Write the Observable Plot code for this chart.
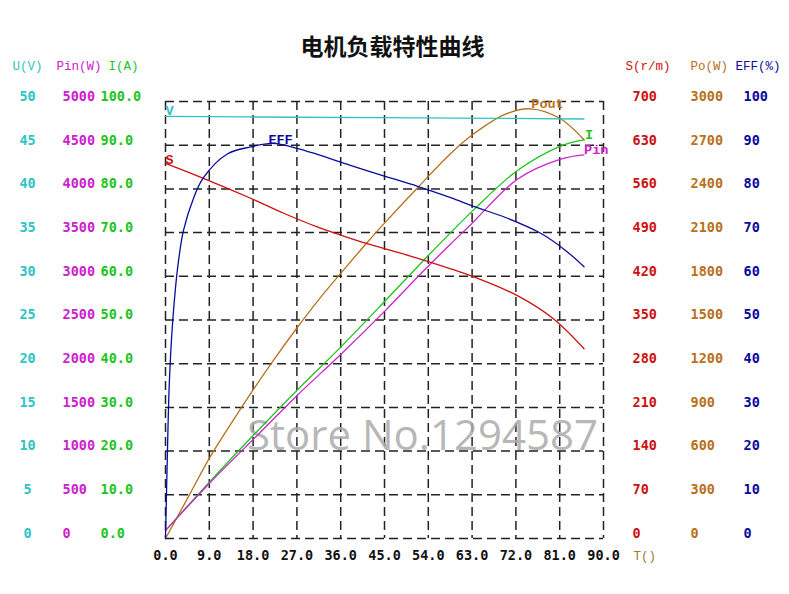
<!DOCTYPE html>
<html>
<head>
<meta charset="utf-8">
<script src="https://cdn.jsdelivr.net/npm/d3@7"></script>
<script src="https://cdn.jsdelivr.net/npm/@observablehq/plot@0.6"></script>
<style>
  html, body { margin: 0; padding: 0; background: #fff; }
  #chart { position: absolute; left: 0; top: 0; }
</style>
</head>
<body>
<div id="chart"></div>
<script>
// ---- tick labels ----
const tTicks = [0, 9, 18, 27, 36, 45, 54, 63, 72, 81, 90];
const gridPct = [0, 10, 20, 30, 40, 50, 60, 70, 80, 90, 100];
const uTicks = [0, 5, 10, 15, 20, 25, 30, 35, 40, 45, 50];
const pinTicks = [0, 500, 1000, 1500, 2000, 2500, 3000, 3500, 4000, 4500, 5000];
const iTicks = [0, 10, 20, 30, 40, 50, 60, 70, 80, 90, 100];
const sTicks = [0, 70, 140, 210, 280, 350, 420, 490, 560, 630, 700];
const poTicks = [0, 300, 600, 900, 1200, 1500, 1800, 2100, 2400, 2700, 3000];
const effTicks = [0, 10, 20, 30, 40, 50, 60, 70, 80, 90, 100];

// ---- series (torque T vs value) ----
const uT = [0, 26, 60, 86];
const uV = [48.3, 48.2, 48.1, 48.0];

const pinT = [0, 9, 19.5, 27.1, 35.9, 45.2, 53, 58.6, 62.7, 72.3, 81.2, 86];
const pinV = [90, 630, 1215, 1640, 2100, 2610, 3060, 3370, 3590, 4110, 4340, 4390];

const iT = [0, 9, 19.5, 27.1, 36, 45.5, 53, 58.6, 63.3, 72.3, 81.2, 86];
const iV = [1.8, 12.9, 25.3, 34.0, 43.8, 54.8, 63.6, 70.0, 75.2, 84.2, 89.8, 91.2];

const sT = [0, 7.8, 17.5, 24.3, 31.2, 36, 41.1, 48.3, 53, 58.6, 63, 72.3, 79.7, 86];
const sV = [601, 577, 545, 521, 499, 486, 473, 457, 446, 432, 420, 389, 352, 304];

const poT = [0, 5, 9, 13.5, 18, 22, 27, 31.5, 36, 41, 45, 52, 58.5, 63, 70, 75, 81, 86];
const poV = [0, 305, 550, 790, 1020, 1215, 1445, 1640, 1820, 2015, 2165, 2415, 2640, 2770, 2915, 2950, 2885, 2737];

const effT = [0, 0.3, 0.8, 1.5, 2.5, 3.7, 5.8, 7.8, 12.7, 17.5, 22, 27, 31.2, 38, 44.8, 51.8, 58.6, 63.3, 70, 77, 82, 86];
const effV = [0, 15, 36, 50, 62, 70.5, 78, 82.6, 88, 89.6, 90.4, 89.3, 87.9, 85.4, 83.0, 80.6, 78.0, 76.0, 73.4, 69.9, 66.1, 62.2];

// ---- colours ----
const C = {
  U: "#2ec4c4", Pin: "#cc22cc", I: "#1ec41e", S: "#cc1111", Po: "#b8701c", EFF: "#0a0a9c"
};

function series(name, T, V, max) {
  return T.map((t, i) => ({ name, T: t, v: V[i], y: V[i] / max * 100 }));
}
const sets = {
  U: series("U", uT, uV, 50),
  Pin: series("Pin", pinT, pinV, 5000),
  I: series("I", iT, iV, 100),
  S: series("S", sT, sV, 700),
  Po: series("Po", poT, poV, 3000),
  EFF: series("EFF", effT, effV, 100)
};

const valFont = { fontFamily: "DejaVu Sans Mono", fontWeight: "bold", fontSize: 13.5, lineAnchor: "middle" };
const headFont = { fontFamily: "Liberation Mono", fontSize: 12.5, lineAnchor: "middle" };
const lblFont = { fontFamily: "Liberation Mono", fontWeight: "bold", fontSize: 13.5, lineAnchor: "middle" };

function column(ticks, max, fmt, fill, frameAnchor, dx, textAnchor) {
  return Plot.text(ticks, {
    y: d => d / max * 100, text: fmt, frameAnchor, dx, dy: -5, textAnchor, fill, ...valFont
  });
}

const lines = ["Po", "I", "Pin", "S", "EFF", "U"].map(k =>
  Plot.line(sets[k], { x: "T", y: "y", stroke: C[k], strokeWidth: 1.3, curve: "catmull-rom" })
);

const last = a => [a[a.length - 1]];
const peak = a => [a.reduce((m, d) => (d.v > m.v ? d : m), a[0])];

const chart = Plot.plot({
  width: 789,
  height: 594,
  marginLeft: 165,
  marginRight: 186,
  marginTop: 101,
  marginBottom: 56,
  x: { domain: [0, 90], axis: null },
  y: { domain: [0, 100], axis: null },
  style: { background: "#fff" },
  marks: [
    Plot.gridX(tTicks, { stroke: "#222", strokeOpacity: 1, strokeWidth: 1.5, strokeDasharray: "9,5" }),
    Plot.gridY(gridPct, { stroke: "#222", strokeOpacity: 1, strokeWidth: 1.5, strokeDasharray: "9,5" }),
    Plot.text(["Store No.1294587"], {
      frameAnchor: "middle", dx: 38, dy: 117, fontFamily: "Open Sans", fontSize: 42,
      fill: "#aaaaaa", fillOpacity: 0.85, lineAnchor: "middle"
    }),
    ...lines,
    // curve labels
    Plot.text(sets.U.slice(0, 1), { x: "T", y: "y", text: () => "V", textAnchor: "start", dx: 0, dy: -6, fill: C.U, ...lblFont }),
    Plot.text(sets.S.slice(0, 1), { x: "T", y: "y", text: () => "S", textAnchor: "start", dx: 0, dy: -4, fill: C.S, ...lblFont }),
    Plot.text(peak(sets.EFF), { x: "T", y: "y", text: () => "EFF", textAnchor: "middle", dx: 8, dy: -4, fill: C.EFF, ...lblFont }),
    Plot.text(peak(sets.Po), { x: "T", y: "y", text: () => "Pout", textAnchor: "middle", dx: 17, dy: -5, fill: C.Po, ...lblFont }),
    Plot.text(last(sets.I), { x: "T", y: "y", text: () => "I", textAnchor: "start", dx: 1, dy: -5, fill: C.I, ...lblFont }),
    Plot.text(last(sets.Pin), { x: "T", y: "y", text: () => "Pin", textAnchor: "start", dx: 0, dy: -5, fill: C.Pin, ...lblFont }),
    // left value columns
    column(uTicks, 50, d => String(d), C.U, "left", -138, "middle"),
    column(pinTicks, 5000, d => String(d), C.Pin, "left", -103, "start"),
    column(iTicks, 100, d => d.toFixed(1), C.I, "left", -65, "start"),
    // right value columns
    column(sTicks, 700, d => String(d), C.S, "right", 29, "start"),
    column(poTicks, 3000, d => String(d), C.Po, "right", 87, "start"),
    column(effTicks, 100, d => String(d), C.EFF, "right", 140, "start"),
    // headers
    Plot.text(["U(V)"], { frameAnchor: "top-left", dx: -138, dy: -36, textAnchor: "middle", fill: C.U, ...headFont }),
    Plot.text(["Pin(W)"], { frameAnchor: "top-left", dx: -109, dy: -36, textAnchor: "start", fill: C.Pin, ...headFont }),
    Plot.text(["I(A)"], { frameAnchor: "top-left", dx: -57, dy: -36, textAnchor: "start", fill: C.I, ...headFont }),
    Plot.text(["S(r/m)"], { frameAnchor: "top-right", dx: 22, dy: -36, textAnchor: "start", fill: C.S, ...headFont }),
    Plot.text(["Po(W)"], { frameAnchor: "top-right", dx: 87, dy: -36, textAnchor: "start", fill: C.Po, ...headFont }),
    Plot.text(["EFF(%)"], { frameAnchor: "top-right", dx: 132, dy: -36, textAnchor: "start", fill: C.EFF, ...headFont }),
    // x tick labels
    Plot.text(tTicks, { x: d => d, frameAnchor: "bottom", dy: 17, text: d => d.toFixed(1), fill: "#111", ...valFont }),
    Plot.text(["T()"], { frameAnchor: "bottom-right", dx: 30, dy: 17, textAnchor: "start", fill: "#a07838", ...headFont }),
    // title
    Plot.text(["电机负载特性曲线"], {
      frameAnchor: "top", dx: 8, dy: -54, fontFamily: "Noto Sans CJK SC", fontWeight: "bold",
      fontSize: 23, fill: "#111", lineAnchor: "middle"
    })
  ]
});
document.getElementById("chart").appendChild(chart);
</script>
</body>
</html>
